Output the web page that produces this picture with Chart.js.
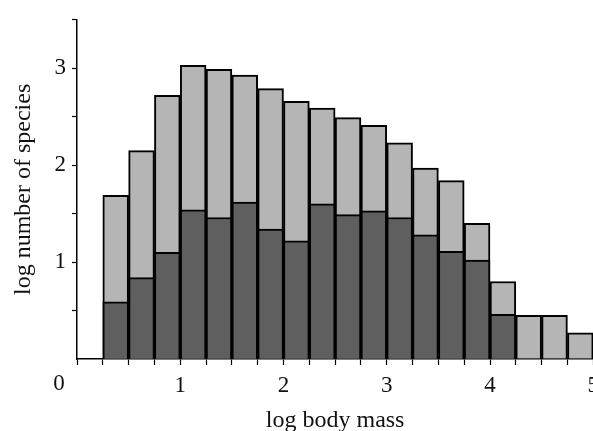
<!DOCTYPE html>
<html>
<head>
<meta charset="utf-8">
<script src="https://cdn.jsdelivr.net/npm/chart.js@4"></script>
<style>
  html, body { margin: 0; padding: 0; background: #fff; overflow: hidden; }
  #wrap { width: 606px; height: 431px; }
</style>
</head>
<body>
<div id="wrap"><canvas id="chart"></canvas></div>
<script>
// bin centres of log body mass (bins 0.25 wide, 0.25 .. 5.0)
const binCentres = [0.375, 0.625, 0.875, 1.125, 1.375, 1.625, 1.875, 2.125, 2.375, 2.625,
  2.875, 3.125, 3.375, 3.625, 3.875, 4.125, 4.375, 4.625, 4.875];
const allSpecies = [1.69, 2.15, 2.72, 3.03, 2.99, 2.93, 2.79, 2.66, 2.59, 2.49,
  2.41, 2.23, 1.97, 1.84, 1.40, 0.80, 0.45, 0.45, 0.27];
const subsetSpecies = [0.59, 0.84, 1.10, 1.54, 1.46, 1.62, 1.34, 1.22, 1.60, 1.49,
  1.53, 1.46, 1.28, 1.11, 1.02, 0.46, null, null, null];
const xTickLabels = [1, 2, 3, 4, 5];
const yTickLabels = [1, 2, 3];

const serif = "'Liberation Serif', 'Times New Roman', serif";
const ctx = document.getElementById("chart");

const originLabel = {
  id: "originLabel",
  afterDraw(chart) {
    const c = chart.ctx;
    const x = chart.scales.x.getPixelForValue(0);
    const y = chart.scales.y.getPixelForValue(0);
    c.save();
    c.font = "23px " + serif;
    c.fillStyle = "#111";
    c.textAlign = "center";
    c.textBaseline = "middle";
    c.fillText("0", x - 18, y + 25);
    c.restore();
  },
};

new Chart(ctx, {
  type: "bar",
  data: {
    datasets: [
      {
        label: "subset",
        data: binCentres.map((x, i) => ({ x: x, y: subsetSpecies[i] })),
        backgroundColor: "#5f5f5f",
        borderColor: "#000",
        borderWidth: 2,
      },
      {
        label: "all",
        data: binCentres.map((x, i) => ({ x: x, y: allSpecies[i] })),
        backgroundColor: "#b5b5b5",
        borderColor: "#000",
        borderWidth: 2,
      },
    ],
  },
  options: {
    animation: false,
    maintainAspectRatio: false,
    grouped: false,
    barPercentage: 1,
    categoryPercentage: 1,
    layout: { padding: { top: 14, left: 0, bottom: 0 } },
    plugins: {
      legend: { display: false },
      tooltip: { enabled: false },
    },
    scales: {
      x: {
        type: "linear",
        min: 0,
        max: 5,
        offset: false,
        afterFit: (scale) => { scale.height = 72; },
        grid: {
          offset: false,
          drawOnChartArea: false,
          drawTicks: true,
          tickLength: 6,
          tickColor: "#000",
          tickWidth: 1.2,
        },
        border: { display: true, color: "#000", width: 1.5 },
        ticks: {
          stepSize: 0.25,
          autoSkip: false,
          maxRotation: 0,
          padding: 7,
          color: "#111",
          font: { family: serif, size: 23 },
          callback: (v) => (xTickLabels.includes(v) ? String(v) : ""),
        },
        title: {
          display: true,
          text: "log body mass",
          color: "#111",
          font: { family: serif, size: 24 },
          padding: { top: 0, bottom: -4 },
        },
      },
      y: {
        min: 0,
        max: 3.5,
        afterFit: (scale) => { scale.width = 77; },
        grid: {
          drawOnChartArea: false,
          drawTicks: true,
          tickLength: 5,
          tickColor: (c) => (c.tick && c.tick.value === 0 ? "rgba(0,0,0,0)" : "#000"),
          tickWidth: 1.2,
        },
        border: { display: true, color: "#000", width: 1.5 },
        ticks: {
          stepSize: 0.5,
          padding: 6,
          color: "#111",
          font: { family: serif, size: 23 },
          callback: (v) => (yTickLabels.includes(v) ? String(v) : ""),
        },
        title: {
          display: true,
          text: "log number of species",
          color: "#111",
          font: { family: serif, size: 24 },
          padding: { top: 9, bottom: 0 },
        },
      },
    },
  },
  plugins: [originLabel],
});
</script>
</body>
</html>
